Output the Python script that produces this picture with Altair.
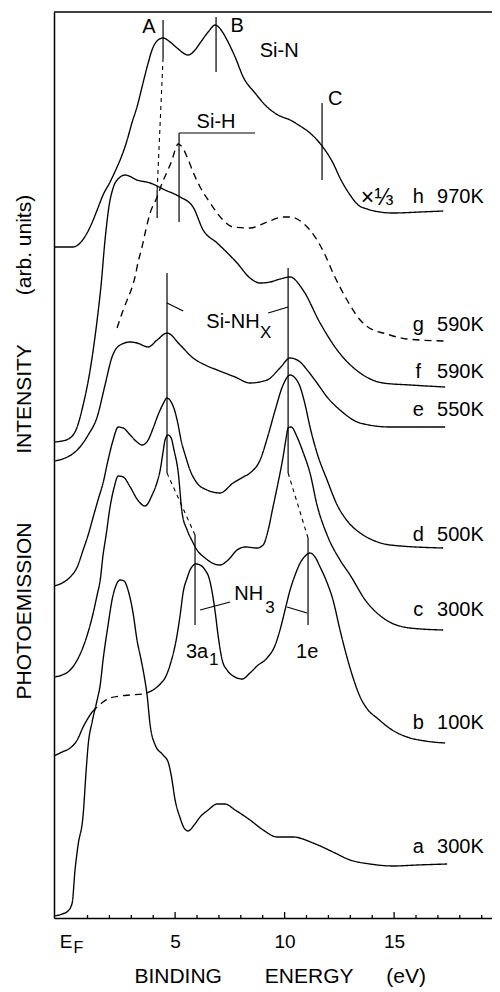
import altair as alt
import pandas as pd

# ---------------- spectra: binding energy (eV) / intensity (arb. units) ----------------
h_ev = [-0.53,-0.25,0.34,0.66,0.98,1.26,1.44,1.71,2.03,2.35,2.58,2.81,3.04,3.26,3.49,3.72,4.00,4.22,4.45,4.77,
        5.09,5.59,5.91,6.14,6.51,6.83,7.10,7.37,7.74,8.11,8.65,9.20,9.70,10.25,10.71,11.16,11.71,12.21,12.53,12.99,
        13.36,13.77,14.36,14.95,16.19,17.24]
h_int = [67.1,67.1,67.1,67.5,68.5,69.8,70.8,72.3,73.6,75.1,76.3,77.8,79.6,81.1,83.1,85.1,87.1,87.8,88.0,87.6,
         87.0,86.3,86.8,87.5,88.6,89.3,88.8,87.8,86.1,84.1,82.5,81.1,80.3,79.8,79.2,78.5,77.2,75.5,74.0,72.3,
         71.3,70.9,70.6,70.5,70.6,70.7]

g_ev = [2.35,2.58,2.81,3.04,3.17,3.31,3.49,3.63,3.86,4.18,4.41,4.63,4.86,5.00,5.14,5.32,5.55,5.82,6.14,6.51,
        6.92,7.28,7.65,8.42,9.20,9.93,10.25,10.84,11.48,11.85,12.21,12.85,13.45,14.04,14.50,15.59,17.33]
g_int = [59.0,60.5,61.8,63.1,64.1,65.6,67.1,68.5,70.5,72.1,73.5,74.6,75.8,76.8,77.4,77.1,76.1,74.6,73.1,71.8,
         70.5,69.6,69.1,69.0,69.6,70.1,70.1,69.5,67.8,66.3,64.5,61.8,59.8,58.8,58.5,57.9,57.7]

f_ev = [-0.53,0.02,0.43,0.80,1.12,1.44,1.62,1.80,1.99,2.17,2.44,2.72,3.26,3.86,4.54,5.23,5.82,6.28,6.92,7.83,
        8.42,8.88,9.34,9.79,10.25,10.84,11.62,12.40,13.45,14.50,15.73,17.33]
f_int = [47.6,47.8,48.6,51.3,54.8,59.8,63.3,67.8,71.3,73.0,74.0,74.3,73.8,73.5,72.8,72.1,71.1,68.8,67.5,65.5,
         64.0,63.5,63.6,63.9,64.1,62.8,59.5,56.8,54.5,53.5,53.3,53.1]

e_ev = [-0.53,-0.02,0.53,1.03,1.44,1.80,2.12,2.49,2.95,3.26,3.77,4.18,4.63,5.23,5.82,6.37,6.92,7.74,8.42,9.20,
        9.79,10.25,10.71,11.03,11.48,11.94,12.53,13.45,14.82,17.33]
e_int = [45.7,46.0,46.8,48.3,50.1,53.3,56.1,57.3,57.6,57.5,57.1,57.8,58.5,57.3,56.0,55.3,54.8,54.1,53.5,53.8,
         55.0,56.0,55.6,54.8,53.5,52.1,50.8,49.5,49.1,49.1]

d_ev = [-0.53,-0.16,0.21,0.53,0.80,1.03,1.26,1.48,1.71,1.94,2.17,2.40,2.63,2.95,3.26,3.49,3.77,4.00,4.22,4.45,
        4.63,4.82,5.00,5.14,5.27,5.46,5.68,6.00,6.46,7.05,7.65,8.11,8.42,8.88,9.25,9.57,9.93,10.25,10.48,10.71,
        10.94,11.16,11.48,11.94,12.40,12.90,13.45,14.13,14.82,17.24]
d_int = [33.2,33.5,34.1,35.1,36.8,38.3,40.1,41.8,43.5,45.8,47.8,49.1,49.0,48.3,47.6,47.3,47.8,49.0,50.3,51.4,
         52.0,51.6,50.6,49.3,47.8,46.3,44.8,43.5,42.8,42.5,43.5,44.1,44.5,45.8,48.3,50.8,53.3,54.3,54.0,53.1,
         51.3,49.1,46.5,43.8,41.3,39.6,38.5,37.7,37.3,37.0]

c_ev = [-0.53,-0.16,0.21,0.53,0.80,1.03,1.26,1.44,1.58,1.71,1.85,2.03,2.21,2.40,2.63,2.95,3.26,3.63,3.95,4.18,
        4.32,4.45,4.54,4.68,4.82,4.95,5.14,5.32,5.55,5.78,6.00,6.37,6.69,7.05,7.42,7.83,8.20,8.74,9.02,9.25,
        9.47,9.70,9.93,10.07,10.16,10.30,10.57,10.84,11.16,11.48,11.94,12.53,12.99,13.68,14.50,15.73,17.24]
c_int = [24.1,24.3,24.8,25.8,27.1,28.6,30.5,32.3,33.8,36.3,38.3,41.1,43.0,44.2,44.1,43.1,41.9,41.2,42.3,43.6,
         44.8,46.6,47.8,48.3,48.0,46.8,44.6,40.5,38.8,37.7,36.8,36.0,35.5,35.3,35.8,36.8,37.1,37.0,37.3,38.8,
         41.1,43.5,46.1,48.0,49.0,49.1,48.1,46.6,44.5,41.3,38.3,35.8,34.3,31.8,30.0,29.0,28.8]

b_low_ev = [-0.53,-0.16,0.21,0.53,0.80,1.03,1.21]
b_low_int = [16.2,16.6,17.0,17.8,19.1,20.0,20.6]
b_gap_ev = [1.21,1.44,1.71,2.03,2.49,2.95,3.54,4.00]
b_gap_int = [20.6,21.1,21.6,22.0,22.2,22.3,22.4,22.8]
b_nh3_ev = [4.00,4.32,4.54,4.77,5.09,5.23,5.37,5.55,5.73,5.96,6.14,6.37,6.55,6.69,6.83,6.96,7.15,7.37,7.65,8.06,
            8.42,8.74,9.20,9.57,9.79,10.02,10.25,10.48,10.71,10.94,11.16,11.39,11.62,11.89,12.21,12.53,12.76,13.13,
            13.45,13.81,14.22,14.91,15.59,16.42,17.33]
b_nh3_int = [22.8,23.4,24.0,25.3,28.3,30.3,32.6,34.0,35.0,35.4,35.3,34.8,34.0,32.6,30.6,28.3,25.8,24.8,24.2,23.9,
             24.5,25.2,26.0,27.3,28.8,30.8,32.8,34.3,35.5,36.2,36.5,36.1,35.1,33.8,31.8,28.8,26.8,24.0,
             22.1,20.8,20.0,18.8,18.1,17.7,17.5]

a_ev = [-0.53,-0.16,0.11,0.30,0.43,0.57,0.80,0.94,1.03,1.21,1.44,1.58,1.71,1.94,2.12,2.31,2.49,2.67,2.85,3.08,
        3.26,3.45,3.58,3.72,3.86,4.09,4.45,4.68,4.82,5.00,5.23,5.41,5.59,5.87,6.14,6.51,6.92,7.28,7.74,8.42,
        9.02,9.66,10.39,11.30,12.21,12.99,13.90,14.95,16.05,17.42]
a_int = [0.2,0.4,0.7,1.5,4.8,7.3,10.3,14.8,17.3,19.6,21.8,23.3,25.8,29.3,31.8,33.3,33.8,33.7,32.8,30.5,
         27.8,25.8,24.3,22.3,19.3,17.3,16.3,15.6,14.3,11.8,10.0,9.0,8.7,9.3,10.1,10.8,11.4,11.4,10.8,9.8,
         8.8,8.1,8.1,7.5,6.6,5.8,5.4,5.2,5.3,5.4]

# curve labels
lab_letters = ["h", "g", "f", "e", "d", "c", "b", "a"]
lab_temps = ["970K", "590K", "590K", "550K", "500K", "300K", "100K", "300K"]
lab_int = [72.1, 59.3, 54.6, 50.8, 38.3, 30.8, 19.5, 7.1]

# axis ticks
major_ticks = [5, 10, 15]
minor_ticks = [1, 2, 3, 4, 6, 7, 8, 9, 11, 12, 13, 14, 16, 17, 18, 19]

# annotation segments (eV, intensity)
sol_x1 = [4.45, 4.18, 6.87, 11.71, 5.18, 5.18, 4.63, 10.16, 4.63, 9.25, 5.91, 11.07, 6.14, 10.11]
sol_y1 = [89.8, 72.8, 90.1, 81.5, 78.5, 78.5, 64.5, 65.0, 61.5, 60.5, 38.3, 38.0, 30.8, 31.1]
sol_x2 = [4.45, 4.18, 6.87, 11.71, 5.18, 8.65, 4.63, 10.16, 5.37, 10.16, 5.91, 11.07, 7.51, 11.03]
sol_y2 = [86.0, 70.0, 84.6, 73.8, 69.6, 78.5, 44.5, 44.5, 60.7, 61.1, 29.3, 29.3, 31.6, 30.5]
dash_x1 = [4.45, 4.63, 10.16]
dash_y1 = [86.0, 44.5, 44.5]
dash_x2 = [4.18, 5.91, 11.07]
dash_y2 = [72.8, 38.3, 38.0]

W, H = 438, 906
FONT = "Liberation Sans"
XS = alt.Scale(domain=[-0.53, 19.47], nice=False, zero=False)
YS = alt.Scale(domain=[0, 90.6], nice=False, zero=False)
AX = alt.Axis(values=[0, 5, 10, 15], labelExpr="datum.value == 0 ? 'E' : datum.label",
              tickSize=0, labelPadding=14, labelFontSize=19, labelFont=FONT, labelColor="black",
              domainColor="black", domainWidth=1.5, grid=False, title=None, labelFlush=False,
              labelOverlap=False)
AY = alt.Axis(labels=False, ticks=False, grid=False, title=None, domainColor="black", domainWidth=1.5)

def X(field):
    return alt.X(field, scale=XS, axis=AX)

def Y(field):
    return alt.Y(field, scale=YS, axis=AY)

frames = []
def add(name, style, xs, ys):
    d = pd.DataFrame({"ev": xs, "inten": ys})
    d["seg"] = name
    d["style"] = style
    d["o"] = list(range(len(d)))
    frames.append(d)

add("h", "solid", h_ev, h_int)
add("g", "dashed", g_ev, g_int)
add("f", "solid", f_ev, f_int)
add("e", "solid", e_ev, e_int)
add("d", "solid", d_ev, d_int)
add("c", "solid", c_ev, c_int)
add("b1", "solid", b_low_ev, b_low_int)
add("b2", "dashed", b_gap_ev, b_gap_int)
add("b3", "solid", b_nh3_ev, b_nh3_int)
add("a", "solid", a_ev, a_int)
curves = pd.concat(frames, ignore_index=True)

lines = alt.Chart(curves).mark_line(color="black", strokeWidth=1.35, interpolate="monotone").encode(
    x=X("ev:Q"),
    y=Y("inten:Q"),
    detail="seg:N",
    order="o:Q",
    strokeDash=alt.StrokeDash("style:N", scale=alt.Scale(domain=["solid", "dashed"], range=[[1, 0], [7, 5]]),
                              legend=None),
)

sol = pd.DataFrame({"x1": sol_x1, "y1": sol_y1, "x2": sol_x2, "y2": sol_y2})
dsh = pd.DataFrame({"x1": dash_x1, "y1": dash_y1, "x2": dash_x2, "y2": dash_y2})
rules_s = alt.Chart(sol).mark_rule(color="black", strokeWidth=1.2).encode(
    x=X("x1:Q"), x2="x2:Q", y=Y("y1:Q"), y2="y2:Q")
rules_d = alt.Chart(dsh).mark_rule(color="black", strokeWidth=1.1, strokeDash=[4, 4]).encode(
    x=X("x1:Q"), x2="x2:Q", y=Y("y1:Q"), y2="y2:Q")

# x-axis ticks pointing inward
tick_major = alt.Chart(pd.DataFrame({"t": major_ticks})).mark_rule(color="black", strokeWidth=1.3).encode(
    x=X("t:Q"), y=alt.value(H), y2=alt.value(H - 6))
tick_minor = alt.Chart(pd.DataFrame({"t": minor_ticks})).mark_rule(color="black", strokeWidth=1.3).encode(
    x=X("t:Q"), y=alt.value(H), y2=alt.value(H - 3))
top_line = alt.Chart(pd.DataFrame({"t": [0]})).mark_rule(color="black", strokeWidth=1.3).encode(
    x=alt.value(0), x2=alt.value(W), y=alt.value(0))

# annotation text
ann_c = pd.DataFrame({
    "x": [3.81, 7.83, 12.31, 9.75, 6.87, 11.03],
    "y": [89.1, 89.25, 81.9, 86.7, 79.6, 26.6],
    "t": ["A", "B", "C", "Si-N", "Si-H", "1e"],
})
ann_r = pd.DataFrame({"x": [8.86, 9.02, 6.51], "y": [59.6, 32.4, 26.6], "t": ["Si-NH", "NH", "3a"]})
ann_sub = pd.DataFrame({"x": [8.88, 9.12, 6.55], "y": [58.5, 31.0, 25.8], "t": ["X", "3", "1"]})
ann_scale = pd.DataFrame({"x": [14.22], "y": [72.0], "t": ["×⅓"]})

def text_layer(df, align, size):
    return alt.Chart(df).mark_text(font=FONT, fontSize=size, color="black", align=align, baseline="middle").encode(
        x=X("x:Q"), y=Y("y:Q"), text="t:N")

t_center = text_layer(ann_c, "center", 20)
t_right = text_layer(ann_r, "right", 20)
t_sub = text_layer(ann_sub, "left", 17)
t_scale = text_layer(ann_scale, "center", 23)

labs1 = pd.DataFrame({"x": [16.1] * len(lab_letters), "y": lab_int, "t": lab_letters})
labs2 = pd.DataFrame({"x": [16.96] * len(lab_temps), "y": lab_int, "t": lab_temps})
t_lab1 = text_layer(labs1, "center", 20)
t_lab2 = text_layer(labs2, "left", 20)

# E_F subscript
ef = alt.Chart(pd.DataFrame({"x": [0.0], "t": ["F"]})).mark_text(
    font=FONT, fontSize=16, color="black", align="left", baseline="middle", dx=8).encode(
    x=X("x:Q"), y=alt.value(H + 30), text="t:N")

# axis titles
xt = pd.DataFrame({"x": [5.14, 11.12, 15.55], "t": ["BINDING", "ENERGY", "(eV)"]})
x_title = alt.Chart(xt).mark_text(font=FONT, fontSize=21, color="black", align="center", baseline="middle").encode(
    x=X("x:Q"), y=alt.value(H + 59), text="t:N")
yt = pd.DataFrame({"py": [599, 387, 233], "t": ["PHOTOEMISSION", "INTENSITY", "(arb. units)"]})
y_title = alt.Chart(yt).mark_text(font=FONT, fontSize=21, color="black", align="center", baseline="middle",
                                  angle=270).encode(
    x=alt.value(-29), y=alt.Y("py:Q", scale=None), text="t:N")

chart = alt.layer(
    lines, rules_s, rules_d, tick_major, tick_minor, top_line,
    t_center, t_right, t_sub, t_scale, t_lab1, t_lab2, ef, x_title, y_title
).properties(
    width=W, height=H,
    autosize=alt.AutoSizeParams(type="none"),
    padding={"left": 46, "top": 4, "right": 0, "bottom": 74},
    background="white",
).configure_view(stroke=None)

chart.save("out.html", embed_options={"renderer": "svg", "actions": False})
